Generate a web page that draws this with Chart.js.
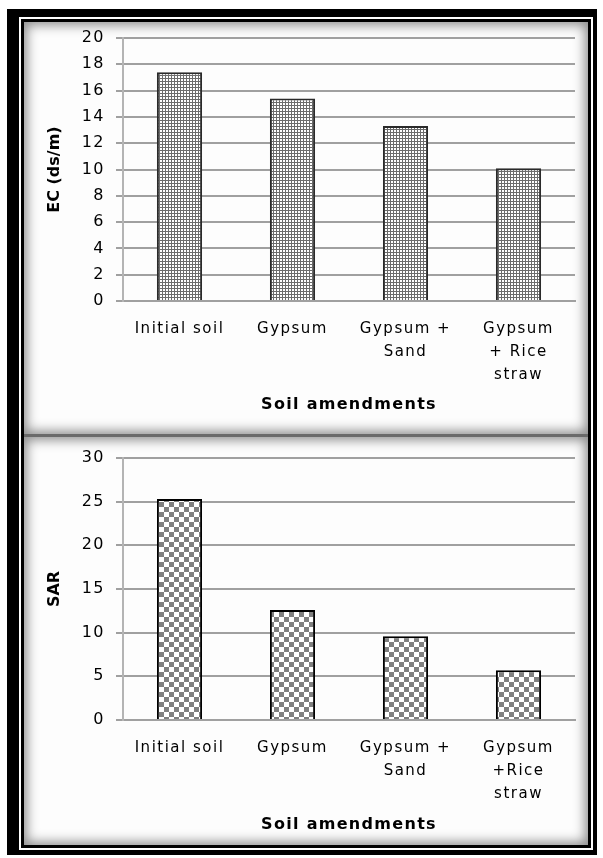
<!DOCTYPE html>
<html>
<head>
<meta charset="utf-8">
<script src="https://cdn.jsdelivr.net/npm/chart.js@4/dist/chart.umd.min.js"></script>
<style>
  html, body { margin: 0; padding: 0; background: #fff; width: 603px; height: 858px; overflow: hidden; }
  .abs { position: absolute; }
  #outer { left: 7px; top: 9px; width: 590px; height: 846px; background: #000; }
  #gap { left: 19px; top: 17px; width: 574px; height: 833px; background: #fff; }
  #inner { left: 21px; top: 19px; width: 570px; height: 829px; background: #000; }
  .panel { background: #fdfdfd; box-shadow: inset 0 0 12px 3px rgba(0,0,0,0.45); overflow: hidden; }
  #p1 { left: 24px; top: 22px; width: 564px; height: 412px; }
  #div { left: 24px; top: 434px; width: 564px; height: 3px; background: #6a6a6a; }
  #p2 { left: 24px; top: 437px; width: 564px; height: 408px; }
  canvas { position: absolute; left: 0; top: 0; }
</style>
</head>
<body>
<div id="outer" class="abs"></div>
<div id="gap" class="abs"></div>
<div id="inner" class="abs"></div>
<div id="p1" class="abs panel"><canvas id="c1" width="564" height="412"></canvas></div>
<div id="div" class="abs"></div>
<div id="p2" class="abs panel"><canvas id="c2" width="564" height="408"></canvas></div>
<script>
// ---- data ----
const categoriesEC = ['Initial soil', 'Gypsum', ['Gypsum +', 'Sand'], ['Gypsum', '+ Rice', 'straw']];
const categoriesSAR = ['Initial soil', 'Gypsum', ['Gypsum +', 'Sand'], ['Gypsum', '+Rice', 'straw']];
const ecValues = [17.4, 15.4, 13.3, 10.1];
const sarValues = [25.3, 12.6, 9.6, 5.7];
const ecTitle = 'EC (ds/m)';
const sarTitle = 'SAR';
const xTitle = 'Soil amendments';

// ---- patterns ----
function makeFinePattern() {
  const c = document.createElement('canvas');
  c.width = 3; c.height = 3;
  const g = c.getContext('2d');
  g.fillStyle = '#6c6c6c'; g.fillRect(0, 0, 3, 3);
  g.fillStyle = '#ffffff'; g.fillRect(1, 0, 2, 2);
  return c;
}
function makeCheckPattern() {
  const c = document.createElement('canvas');
  c.width = 10; c.height = 10;
  const g = c.getContext('2d');
  g.fillStyle = '#ffffff'; g.fillRect(0, 0, 10, 10);
  g.fillStyle = '#808080'; g.fillRect(0, 0, 5, 5); g.fillRect(5, 5, 5, 5);
  return c;
}

// letter spacing: ticks get 1.5px, titles get their own value
const spacingPlugin = {
  id: 'spacing',
  beforeDraw(chart) {
    const ctx = chart.ctx;
    try { ctx.letterSpacing = '1.5px'; } catch (e) {}
    Object.values(chart.scales).forEach(s => {
      if (s._spPatched) return;
      s._spPatched = true;
      const orig = s.drawTitle.bind(s);
      s.drawTitle = function () {
        const prev = ctx.letterSpacing;
        try { ctx.letterSpacing = s.axis === 'x' ? '1.3px' : '0px'; } catch (e) {}
        orig();
        try { ctx.letterSpacing = prev; } catch (e) {}
      };
    });
  }
};

function makeChart(id, labels, values, pattern, border, yMax, yStep, yTitle, areaTop, xHeight, xTitlePad) {
  const canvas = document.getElementById(id);
  const ctx = canvas.getContext('2d');
  const fill = ctx.createPattern(pattern, 'repeat');
  return new Chart(ctx, {
    type: 'bar',
    data: {
      labels: labels,
      datasets: [{
        data: values,
        backgroundColor: fill,
        borderColor: border,
        borderWidth: 2,
        categoryPercentage: 1,
        barPercentage: 0.4
      }]
    },
    options: {
      responsive: false,
      devicePixelRatio: 1,
      animation: false,
      layout: { padding: { top: areaTop, right: 13, left: 0, bottom: 0 } },
      plugins: { legend: { display: false }, tooltip: { enabled: false } },
      scales: {
        x: {
          grid: { display: false, drawTicks: false, tickLength: 0 },
          border: { display: true, color: '#a0a0a0', width: 2 },
          ticks: {
            color: '#000', padding: 17, maxRotation: 0, autoSkip: false,
            font: { family: 'DejaVu Sans', size: 15, lineHeight: 1.53 }
          },
          title: {
            display: true, text: xTitle, color: '#000',
            font: { family: 'DejaVu Sans', size: 16, weight: 'bold', lineHeight: 1.2 },
            padding: { top: 0, bottom: xTitlePad }
          },
          afterFit(scale) { scale.height = xHeight; }
        },
        y: {
          min: 0, max: yMax,
          grid: { color: '#a0a0a0', lineWidth: 2, tickLength: 7, drawTicks: true },
          border: { display: true, color: '#b4b4b4', width: 2 },
          ticks: {
            stepSize: yStep, color: '#000', padding: 11,
            font: { family: 'DejaVu Sans', size: 16 }
          },
          title: {
            display: true, text: yTitle, color: '#000',
            font: { family: 'DejaVu Sans', size: 16, weight: 'bold', lineHeight: 1.2 },
            padding: { top: 21.4, bottom: 0 }
          },
          afterFit(scale) { scale.width = 99; scale.paddingTop = 0; scale.paddingBottom = 0; }
        }
      }
    },
    plugins: [spacingPlugin]
  });
}

makeChart('c1', categoriesEC, ecValues, makeFinePattern(), '#2a2a2a', 20, 2, ecTitle, 16, 133, 19.4);
makeChart('c2', categoriesSAR, sarValues, makeCheckPattern(), '#000000', 30, 5, sarTitle, 21, 125, 10.4);
</script>
</body>
</html>
